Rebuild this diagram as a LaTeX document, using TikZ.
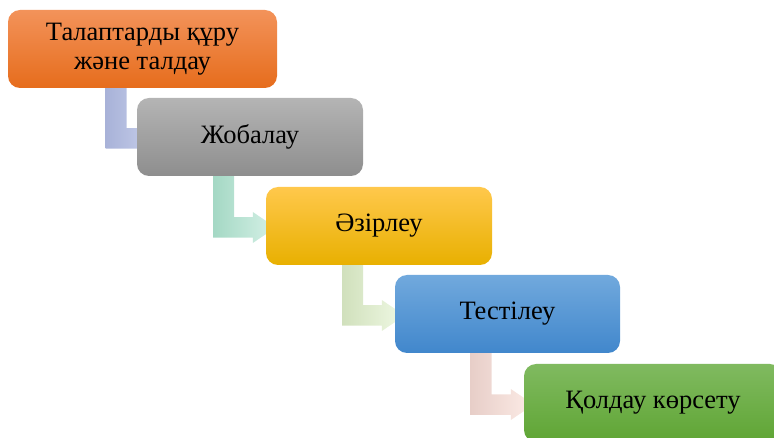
\documentclass[tikz,border=0pt]{standalone}
\usepackage{fontspec}
\setmainfont{Liberation Serif}
\usepackage{tikz}
\usetikzlibrary{calc, backgrounds}

\definecolor{orangetop}{HTML}{F3935A}
\definecolor{orangebot}{HTML}{E66C1C}
\definecolor{greytop}{HTML}{B4B4B4}
\definecolor{greybot}{HTML}{8E8E8E}
\definecolor{yellowtop}{HTML}{FFC84C}
\definecolor{yellowbot}{HTML}{E8B000}
\definecolor{bluetop}{HTML}{71A9DD}
\definecolor{bluebot}{HTML}{4187CC}
\definecolor{greentop}{HTML}{80BA60}
\definecolor{greenbot}{HTML}{5FA534}

\begin{document}
\begin{tikzpicture}[
  x=1pt, y=-1pt,
  phase/.style={rounded corners=12pt, minimum height=78pt, inner sep=0pt,
                align=center, font=\fontsize{26.5pt}{29pt}\selectfont},
  stepconn/.style={to path={
    let \p1=(\tikztostart.south), \p2=(\tikztotarget.west) in
    (\x1-37pt,\y1+2pt) -- (\x1-16pt,\y1+2pt) -- (\x1-16pt,\y2+8.75pt)
    -- (\x2-#1,\y2+8.75pt) -- (\x2-#1,\y2+14pt) -- (\x2+10pt,\y2-1.5pt)
    -- (\x2-#1,\y2-17pt) -- (\x2-#1,\y2-11.75pt) -- (\x1-37pt,\y2-11.75pt)
    -- cycle}},
  stepconn/.default=13pt
]
  \useasboundingbox (0,0) rectangle (774,438);
  % phases
  \node[phase, minimum width=269pt, top color=orangetop, bottom color=orangebot]
    (req) at (142.5,49) {Талаптарды құру\\және талдау};
  \node[phase, minimum width=226pt, top color=greytop, bottom color=greybot]
    (design) at (250,137) {Жобалау};
  \node[phase, minimum width=226pt, top color=yellowtop, bottom color=yellowbot]
    (dev) at (379,226) {Әзірлеу};
  \node[phase, minimum width=225pt, top color=bluetop, bottom color=bluebot]
    (test) at (507.5,314) {Тестілеу};
  \node[phase, minimum width=258pt, top color=greentop, bottom color=greenbot]
    (support) at (653,403) {Қолдау көрсету};
  % bent arrows behind the boxes
  \begin{scope}[on background layer]
    \shade[left color={rgb,255:red,168;green,178;blue,216}, right color={rgb,255:red,194;green,202;blue,232}]
      (req) to[stepconn=-2pt] (design);
    \shade[left color={rgb,255:red,164;green,216;blue,196}, right color={rgb,255:red,214;green,241;blue,231}]
      (design) to[stepconn] (dev);
    \shade[left color={rgb,255:red,208;green,224;blue,188}, right color={rgb,255:red,240;green,249;blue,228}]
      (dev) to[stepconn] (test);
    \shade[left color={rgb,255:red,231;green,206;blue,200}, right color={rgb,255:red,253;green,236;blue,231}]
      (test) to[stepconn] (support);
  \end{scope}
\end{tikzpicture}
\end{document}
